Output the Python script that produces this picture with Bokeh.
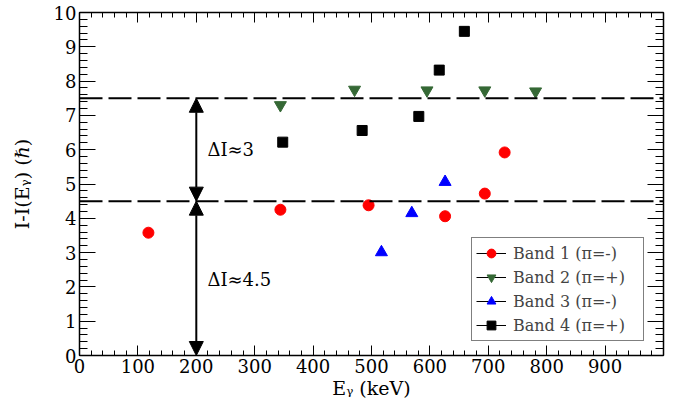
from bokeh.plotting import figure
from bokeh.models import (Range1d, FixedTicker, LinearAxis, Span, Arrow, NormalHead,
                          Label, Legend, LegendItem, CustomJSTickFormatter)
from bokeh.embed import file_html
from bokeh.resources import INLINE

# ---- data ----
band1_e = [118, 344, 495, 626, 694, 728]
band1_i = [3.58, 4.25, 4.38, 4.06, 4.72, 5.92]
band2_e = [344, 471, 595, 694, 781]
band2_i = [7.30, 7.75, 7.73, 7.73, 7.70]
band3_e = [517, 569, 626]
band3_i = [3.01, 4.15, 5.06]
band4_e = [348, 484, 581, 616, 659]
band4_i = [6.22, 6.56, 6.97, 8.32, 9.45]
levels = [4.5, 7.5]
arrow_e = 200
x_ticks = [0, 100, 200, 300, 400, 500, 600, 700, 800, 900]
x_minor = list(range(0, 1001, 20))
y_ticks = [0, 1, 2, 3, 4, 5, 6, 7, 8, 9, 10]
y_minor = [round(i * 0.2, 1) for i in range(51)]
labels = ["Band 1 (π=-)", "Band 2 (π=+)", "Band 3 (π=-)", "Band 4 (π=+)"]

FONT = "DejaVu Serif"

p = figure(width=685, height=402, x_range=Range1d(0, 1000), y_range=Range1d(0, 10),
           output_backend="svg", toolbar_location=None,
           min_border_left=79, min_border_right=22, min_border_top=12, min_border_bottom=47,
           x_axis_label="Eᵧ (keV)", y_axis_label="I-I(Eᵧ) (ℏ)")
p.grid.visible = False
p.outline_line_color = None
p.background_fill_color = "white"
p.border_fill_color = "white"

xt = FixedTicker(ticks=x_ticks, minor_ticks=x_minor)
yt = FixedTicker(ticks=y_ticks, minor_ticks=y_minor)


def style(ax, is_x):
    ax.axis_line_color = "black"
    ax.axis_line_width = 1.5
    ax.major_tick_line_color = "black"
    ax.minor_tick_line_color = "black"
    ax.major_tick_line_width = 1
    ax.minor_tick_line_width = 1
    ax.major_tick_out = 0
    ax.minor_tick_out = 0
    ax.major_tick_in = 10 if is_x else 16
    ax.minor_tick_in = 5 if is_x else 8
    ax.major_label_text_font = FONT
    ax.major_label_text_color = "black"
    ax.major_label_text_font_size = "18px"
    ax.major_label_standoff = 3 if is_x else 3
    ax.axis_label_text_font = FONT
    ax.axis_label_text_font_style = "normal"
    ax.axis_label_text_font_size = "19px"
    ax.axis_label_text_color = "black"


p.xaxis.ticker = xt
p.yaxis.ticker = yt
style(p.xaxis[0], True)
style(p.yaxis[0], False)
p.xaxis.axis_label_standoff = 1
p.yaxis.axis_label_standoff = 18

blank = CustomJSTickFormatter(code="return ''")
top = LinearAxis(ticker=xt, formatter=blank)
style(top, True)
top.major_label_standoff = 0
p.add_layout(top, "above")
right = LinearAxis(ticker=yt, formatter=blank)
style(right, False)
right.major_label_standoff = 0
p.add_layout(right, "right")

for lv in levels:
    p.add_layout(Span(location=lv, dimension="width", line_color="black",
                      line_width=2, line_dash="23 6"))

for y0, y1 in [(levels[1], levels[0]), (levels[0], 0)]:
    p.add_layout(Arrow(x_start=arrow_e, y_start=y0, x_end=arrow_e, y_end=y1,
                       line_color="black", line_width=2,
                       start=NormalHead(size=14, fill_color="black", line_color="black", line_width=1),
                       end=NormalHead(size=14, fill_color="black", line_color="black", line_width=1)))

p.add_layout(Label(x=219, y=6.0, text="ΔI≈3", text_font=FONT, text_font_size="18px",
                   text_baseline="middle", text_color="black"))
p.add_layout(Label(x=219, y=2.22, text="ΔI≈4.5", text_font=FONT, text_font_size="18px",
                   text_baseline="middle", text_color="black"))

r1 = p.scatter(band1_e, band1_i, marker="circle", size=11, color="#ff0000")
r2 = p.scatter(band2_e, band2_i, marker="inverted_triangle", size=12, color="#356835")
r3 = p.scatter(band3_e, band3_i, marker="triangle", size=12, color="#0000ff")
r4 = p.scatter(band4_e, band4_i, marker="square", size=10, color="#000000")

nan = float("nan")
lines = [p.line(x=[nan], y=[nan], line_color="black", line_width=1) for _ in range(4)]

legend = Legend(items=[LegendItem(label=labels[i], renderers=[lines[i], r])
                       for i, r in enumerate([r1, r2, r3, r4])],
                location=(392, 14), border_line_color="black", border_line_width=1,
                padding=4, spacing=2, glyph_width=30, glyph_height=22, label_height=22,
                label_width=126, label_standoff=7, label_text_font=FONT,
                label_text_font_size="16px", background_fill_color="white",
                background_fill_alpha=1, margin=0)
p.add_layout(legend)

open("out.html", "w").write(file_html(p, INLINE))
